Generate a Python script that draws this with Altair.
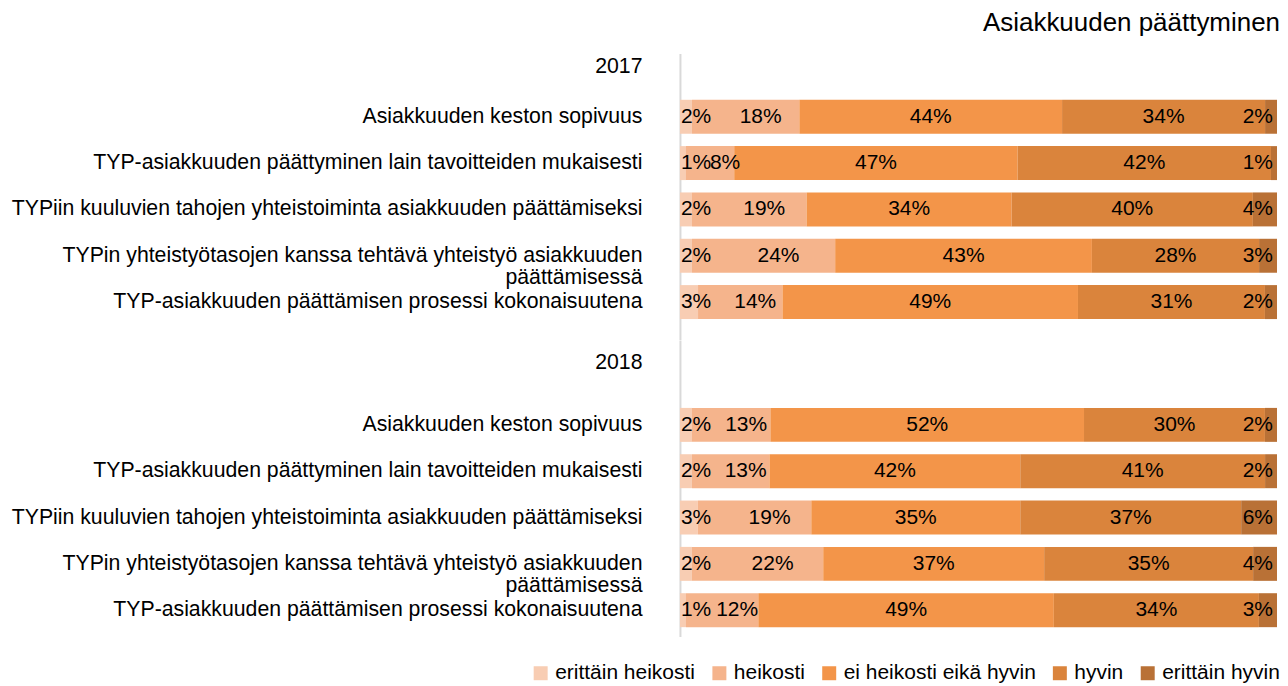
import altair as alt
import pandas as pd

FONT = "Liberation Sans"

chart_title = "Asiakkuuden päättyminen"
years = ["2017", "2018"]
items = [
    "Asiakkuuden keston sopivuus",
    "TYP-asiakkuuden päättyminen lain tavoitteiden mukaisesti",
    "TYPiin kuuluvien tahojen yhteistoiminta asiakkuuden päättämiseksi",
    "TYPin yhteistyötasojen kanssa tehtävä yhteistyö asiakkuuden\npäättämisessä",
    "TYP-asiakkuuden päättämisen prosessi kokonaisuutena",
]
cats = ["erittäin heikosti", "heikosti", "ei heikosti eikä hyvin", "hyvin", "erittäin hyvin"]
colors = ["#F8CDB3", "#F5B48C", "#F39549", "#DA843C", "#B97136"]

e_heikosti_2017 = [2, 1, 2, 2, 3]
heikosti_2017 = [18, 8, 19, 24, 14]
neutraali_2017 = [44, 47, 34, 43, 49]
hyvin_2017 = [34, 42, 40, 28, 31]
e_hyvin_2017 = [2, 1, 4, 3, 2]

e_heikosti_2018 = [2, 2, 3, 2, 1]
heikosti_2018 = [13, 13, 19, 22, 12]
neutraali_2018 = [52, 42, 35, 37, 49]
hyvin_2018 = [30, 41, 37, 35, 34]
e_hyvin_2018 = [2, 2, 6, 4, 3]

series = {
    "2017": [e_heikosti_2017, heikosti_2017, neutraali_2017, hyvin_2017, e_hyvin_2017],
    "2018": [e_heikosti_2018, heikosti_2018, neutraali_2018, hyvin_2018, e_hyvin_2018],
}

rows = []
for year in years:
    for ci, (cat, vals) in enumerate(zip(cats, series[year])):
        for item, v in zip(items, vals):
            rows.append(dict(year=year, item=item, cat=cat, order=ci, value=v))
df = pd.DataFrame(rows)


def panel(year, height, pad_outer, align, year_offset):
    base = (
        alt.Chart(df)
        .transform_filter(alt.datum.year == year)
        .transform_joinaggregate(total="sum(value)", groupby=["item"])
        .transform_stack(
            stack="value",
            groupby=["item"],
            as_=["s0", "s1"],
            sort=[alt.SortField(field="order", order="ascending")],
        )
        .transform_calculate(
            x0="datum.s0 / datum.total",
            x1="datum.s1 / datum.total",
            xm="(datum.s0 + datum.s1) / 2 / datum.total",
            label="datum.value + '%'",
        )
    )
    y = alt.Y(
        "item:N",
        title=None,
        scale=alt.Scale(
            domain=[year] + items,
            paddingInner=0.267,
            paddingOuter=pad_outer,
            align=align,
        ),
        axis=alt.Axis(
            ticks=False,
            domainColor="#D9D9D9",
            domainWidth=2,
            labelPadding=38,
            labelFont=FONT,
            labelFontSize=21.3,
            labelColor="black",
            labelLimit=0,
            labelLineHeight=22,
            labelExpr="split(datum.label, '\\n')",
            labelOffset={
                "condition": {"test": f"datum.value == '{year}'", "value": year_offset},
                "value": 0,
            },
        ),
    )
    xs = alt.Scale(domain=[0, 1], nice=False, zero=False)
    bars = base.mark_bar().encode(
        x=alt.X("x0:Q", scale=xs, axis=None),
        x2="x1:Q",
        y=y,
        color=alt.Color(
            "cat:N",
            scale=alt.Scale(domain=cats, range=colors),
            legend=alt.Legend(
                title=None,
                orient="none",
                legendX=-150,
                legendY=610,
                direction="horizontal",
                symbolType="square",
                symbolSize=196,
                symbolStrokeWidth=0,
                labelFont=FONT,
                labelFontSize=21,
                labelColor="black",
                labelOffset=4,
                columnPadding=13,
                padding=0,
                labelLimit=0,
            ),
        ),
    )
    tstyle = dict(font=FONT, fontSize=21, color="black", baseline="middle")
    t_first = base.transform_filter("datum.order == 0").mark_text(
        align="left", dx=1, **tstyle
    ).encode(x=alt.X("x0:Q", scale=xs, axis=None), y=y, text="label:N")
    t_second = base.transform_filter("datum.order == 1").mark_text(
        align="center", dx=15, **tstyle
    ).encode(x=alt.X("xm:Q", scale=xs, axis=None), y=y, text="label:N")
    t_mid = base.transform_filter("datum.order > 1 && datum.order < 4").mark_text(
        align="center", **tstyle
    ).encode(x=alt.X("xm:Q", scale=xs, axis=None), y=y, text="label:N")
    t_last = base.transform_filter("datum.order == 4").mark_text(
        align="right", dx=-4, **tstyle
    ).encode(x=alt.X("x1:Q", scale=xs, axis=None), y=y, text="label:N")
    return alt.layer(bars, t_first, t_second, t_mid, t_last).properties(
        width=598, height=height
    )


pA = panel("2017", 286.4, 0.2196, 0.0, -3)
pB = panel("2018", 297, 0.334, 0.697, -16)

chart = (
    alt.vconcat(pA, pB, spacing=0)
    .properties(
        title=alt.TitleParams(
            chart_title,
            anchor="end",
            font=FONT,
            fontSize=26,
            fontWeight="normal",
            color="black",
            offset=17,
        ),
        padding={"left": 2, "top": 2, "right": 0, "bottom": 0},
    )
    .configure_view(stroke=None)
)

chart.save("out.html", embed_options={"renderer": "svg", "actions": False})
